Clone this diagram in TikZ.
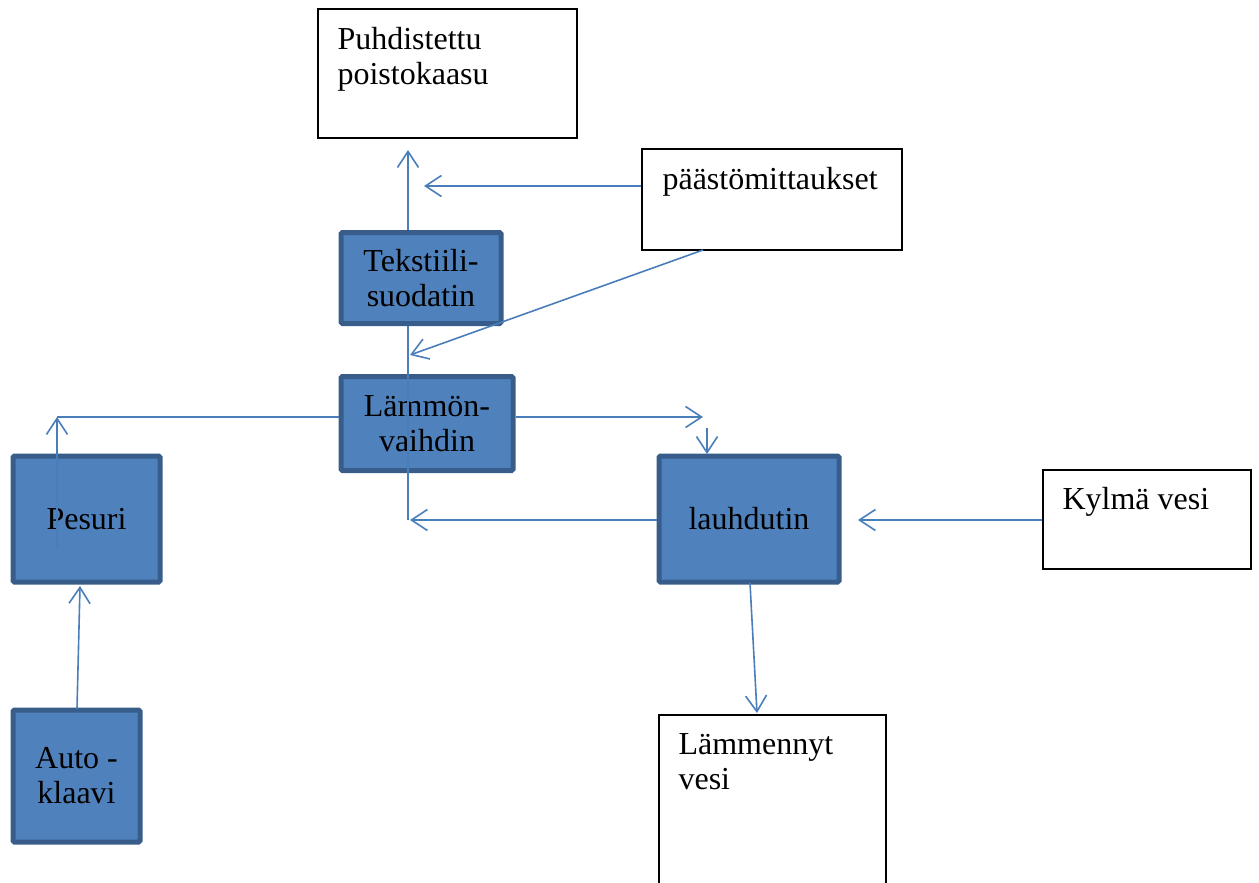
\documentclass[tikz,border=0pt]{standalone}
\usepackage{fontspec}
\setmainfont{Liberation Serif}
\usetikzlibrary{arrows.meta}
\definecolor{bfill}{HTML}{4F81BD}
\definecolor{bdraw}{HTML}{385D8A}
\definecolor{conn}{HTML}{4A7EBB}
\begin{document}
\begin{tikzpicture}[x=1pt,y=-1pt,
  bluebox/.style={draw=bdraw, fill=bfill, line width=5pt, rounded corners=1.5pt, align=center, inner sep=0pt, font=\fontsize{32}{35}\selectfont},
  whitebox/.style={draw=black, line width=1.3pt, fill=white, inner sep=0pt},
  wtext/.style={anchor=north west, align=left, inner sep=0pt, font=\fontsize{32}{35}\selectfont},
  conline/.style={draw=conn, line width=1.6pt},
  arr/.style={conline, -{Straight Barb[length=16pt,width=21pt,line width=1.6pt]}}]
\useasboundingbox (0,0) rectangle (1259,883);
% white boxes
\node[whitebox, minimum width=259pt, minimum height=129pt] (puh) at (447.5,73.5) {};
\node[wtext] (puht) at ([shift={(20pt,-19pt)}]puh.north west) {Puhdistettu\\poistokaasu};
\node[whitebox, minimum width=260pt, minimum height=101pt] (paa) at (772,199.5) {};
\node[wtext] (paat) at ([shift={(21pt,-19pt)}]paa.north west) {päästömittaukset};
\node[whitebox, minimum width=208pt, minimum height=99pt] (kyl) at (1147,519.5) {};
\node[wtext] (kylt) at ([shift={(20pt,-18pt)}]kyl.north west) {Kylmä vesi};
\node[whitebox, minimum width=227pt, minimum height=200pt] (lam) at (772.5,815) {};
\node[wtext] (lamt) at ([shift={(20pt,-19pt)}]lam.north west) {Lämmennyt\\vesi};
% blue boxes
\node[bluebox, minimum width=160pt, minimum height=91pt] (tek) at (421,278) {Tekstiili-\\suodatin};
\node[bluebox, minimum width=172pt, minimum height=94pt] (lvh) at (427,423.5) {Lämmön-\\vaihdin};
\node[bluebox, minimum width=147pt, minimum height=126pt] (pes) at (86.5,519) {Pesuri};
\node[bluebox, minimum width=180pt, minimum height=126pt] (lau) at (749,519) {lauhdutin};
\node[bluebox, minimum width=127pt, minimum height=132pt] (aut) at (76.5,776) {Auto -\\klaavi};
% coordinates
\coordinate (c1) at (408,150);
\coordinate (c2) at (424,186);
\coordinate (c3) at (410,355);
\coordinate (c4) at (408,520);
\coordinate (c5) at (57,417);
\coordinate (c6) at (57,548);
\coordinate (c7) at (703,417);
\coordinate (c8) at (707,428);
\coordinate (c9) at (858,520);
% connectors
\draw[arr] (tek.north -| c1) -- (c1);
\draw[arr] (paa.west |- c2) -- (c2);
\draw[arr] (703,250) -- (c3);
\draw[conline] (tek.south -| c1) -- (c4);
\draw[arr] (lau.west |- c4) -- (410,520);
\draw[conline] (lvh.west |- c5) -- (c5);
\draw[arr] (c6) -- (c5);
\draw[arr] (lvh.east |- c7) -- (c7);
\draw[arr] (c8) -- (707,454);
\draw[arr] (kyl.west |- c9) -- (c9);
\draw[arr] (750,583) -- (757,713);
\draw[arr] (77,709) -- (80,586);
\end{tikzpicture}
\end{document}
